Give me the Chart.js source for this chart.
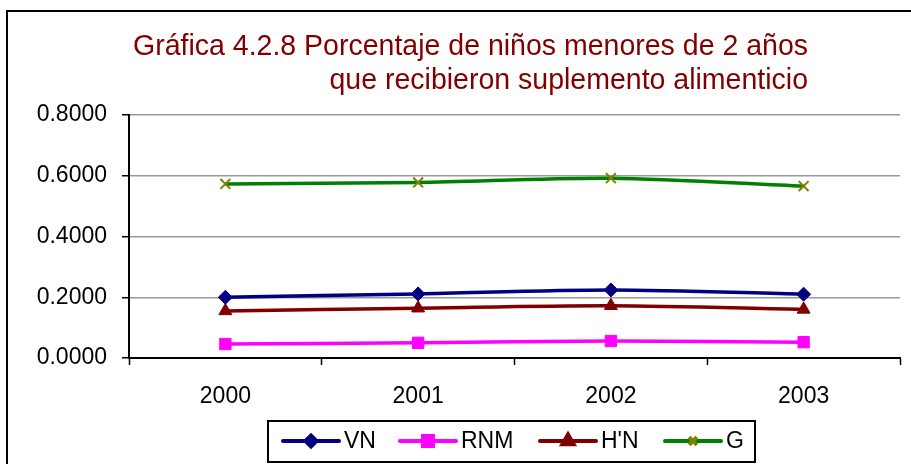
<!DOCTYPE html>
<html>
<head>
<meta charset="utf-8">
<script src="https://cdn.jsdelivr.net/npm/chart.js@4.4.1/dist/chart.umd.min.js"></script>
<style>
  html, body { margin: 0; padding: 0; background: #fff; }
  #wrap { width: 911px; height: 464px; position: relative; }
</style>
</head>
<body>
<div id="wrap"><canvas id="chart" width="911" height="464"></canvas></div>
<script>
// Data
const years = ['2000', '2001', '2002', '2003'];
const vnValues = [0.200, 0.211, 0.224, 0.210];
const rnmValues = [0.046, 0.050, 0.056, 0.052];
const hnValues = [0.155, 0.164, 0.172, 0.160];
const gValues = [0.573, 0.578, 0.592, 0.566];
const yTicks = [0, 0.2, 0.4, 0.6, 0.8];
const titleLines = ['Gráfica 4.2.8 Porcentaje de niños menores de 2 años', 'que recibieron suplemento alimenticio'];

const FONT = '"Liberation Sans", Arial, sans-serif';

const series = [
    { label: 'VN', data: vnValues, line: '#000080', fill: '#000080', style: 'rectRot', r: 7, lr: 5.5 },
    { label: 'RNM', data: rnmValues, line: '#FF00FF', fill: '#FF00FF', style: 'rect', r: 8, lr: 7 },
    { label: "H'N", data: hnValues, line: '#800000', fill: '#800000', style: 'triangle', r: 7.5, lr: 6.5 },
    { label: 'G', data: gValues, line: '#008000', fill: '#808000', style: 'crossRot', r: 7, lr: 5.5 },
];

// Title, outer frame and legend drawn on top of the chart
const decorations = {
    id: 'decorations',
    afterDraw(chart) {
        const { ctx } = chart;
        ctx.save();

        // outer frame
        ctx.strokeStyle = '#000';
        ctx.lineWidth = 2;
        ctx.strokeRect(7, 11, 960, 500);

        // title, right aligned, slightly condensed
        ctx.fillStyle = '#800000';
        ctx.font = '30px ' + FONT;
        ctx.textBaseline = 'alphabetic';
        ctx.textAlign = 'left';
        const w1 = ctx.measureText(titleLines[0]).width;
        const sx = 675 / w1;
        const right = 808;
        const baselines = [55, 89];
        titleLines.forEach((t, i) => {
            const w = ctx.measureText(t).width * sx;
            ctx.save();
            ctx.translate(right - w, baselines[i]);
            ctx.scale(sx, 1);
            ctx.fillText(t, 0, 0);
            ctx.restore();
        });

        // legend box
        ctx.strokeStyle = '#000';
        ctx.lineWidth = 2;
        ctx.strokeRect(268, 421, 487, 41);
        const starts = [283, 400, 540, 665];
        const cy = 441;
        ctx.font = '23px ' + FONT;
        ctx.textBaseline = 'middle';
        series.forEach((s, i) => {
            const x0 = starts[i];
            ctx.strokeStyle = s.line;
            ctx.lineWidth = 4;
            ctx.lineCap = 'round';
            ctx.beginPath();
            ctx.moveTo(x0, cy);
            ctx.lineTo(x0 + 56, cy);
            ctx.stroke();
            ctx.lineCap = 'butt';
            ctx.fillStyle = s.fill;
            ctx.strokeStyle = s.fill;
            Chart.helpers.drawPoint(ctx, {
                pointStyle: s.style,
                radius: s.lr,
                borderWidth: 2,
            }, x0 + 28, cy);
            ctx.fillStyle = '#000';
            ctx.fillText(s.label, x0 + 61, cy + 1);
        });

        ctx.restore();
    }
};

const datasets = series.map(s => ({
    label: s.label,
    data: s.data,
    borderColor: s.line,
    backgroundColor: s.fill,
    pointBackgroundColor: s.fill,
    pointBorderColor: s.fill,
    pointStyle: s.style,
    pointRadius: s.r,
    pointBorderWidth: s.style === 'crossRot' ? 2 : 1,
    borderWidth: 3.5,
    tension: 0.3,
    fill: false,
}));

new Chart(document.getElementById('chart').getContext('2d'), {
    type: 'line',
    data: { labels: years, datasets },
    options: {
        responsive: false,
        animation: false,
        layout: { padding: { top: 115, right: 11, left: 0, bottom: 0 } },
        plugins: {
            legend: { display: false },
            title: { display: false },
            tooltip: { enabled: false },
        },
        scales: {
            x: {
                offset: true,
                afterFit(scale) { scale.height = 106; },
                grid: {
                    offset: true,
                    drawOnChartArea: false,
                    tickLength: 7,
                    tickColor: '#000',
                    tickWidth: 1.5,
                },
                border: { color: '#000', width: 2 },
                ticks: {
                    color: '#000',
                    font: { family: FONT, size: 23 },
                    padding: 18,
                    maxRotation: 0,
                },
            },
            y: {
                min: 0,
                max: 0.8,
                afterFit(scale) { scale.width = 129; },
                afterBuildTicks(scale) { scale.ticks = yTicks.map(v => ({ value: v })); },
                grid: {
                    color: ctx => ctx.tick && ctx.tick.value === 0 ? 'rgba(0,0,0,0)' : '#999999',
                    lineWidth: 1.5,
                    tickLength: 7,
                    tickColor: '#000',
                    tickWidth: 1.5,
                },
                border: { color: '#000', width: 2 },
                ticks: {
                    color: '#000',
                    font: { family: FONT, size: 23 },
                    padding: 15,
                    callback: v => Number(v).toFixed(4),
                },
            },
        },
    },
    plugins: [decorations],
});
</script>
</body>
</html>
